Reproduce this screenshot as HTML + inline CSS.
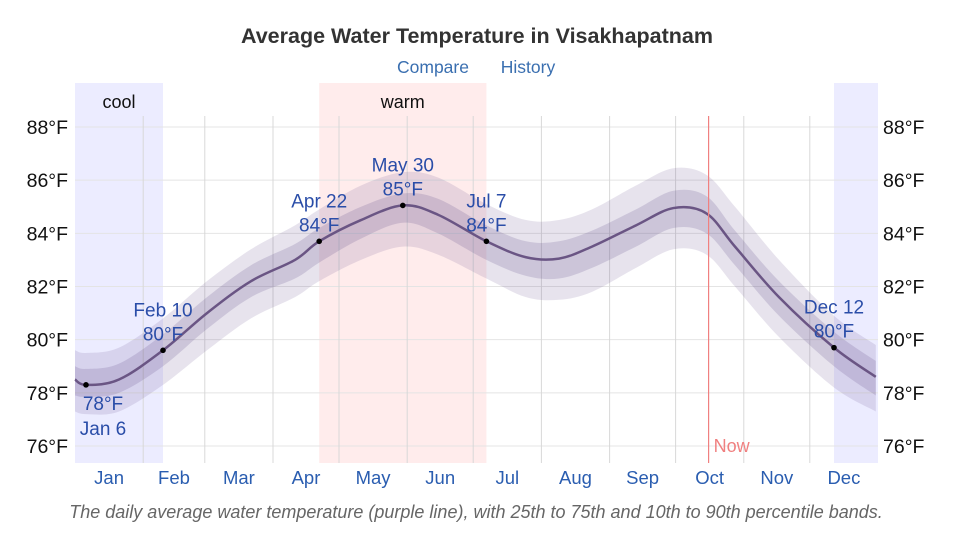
<!DOCTYPE html>
<html><head><meta charset="utf-8"><style>
body{margin:0;background:#fff;font-family:"Liberation Sans",sans-serif;}
svg{display:block}
</style></head><body>
<svg id="chart" width="956" height="546">
<text x="477" y="43" text-anchor="middle" font-size="21.5" font-weight="bold" fill="#333">Average Water Temperature in Visakhapatnam</text>
<text x="433" y="73" text-anchor="middle" font-size="17.5" fill="#3a6fb0">Compare</text>
<text x="528" y="73" text-anchor="middle" font-size="17.5" fill="#3a6fb0">History</text>
<g id="bg"></g><g id="grid"></g><g id="bands"></g><g id="marks"></g><g id="labels"></g>
<text x="476" y="518" text-anchor="middle" font-size="18" font-style="italic" fill="#666">The daily average water temperature (purple line), with 25th to 75th and 10th to 90th percentile bands.</text>
</svg>
<script>
const days=[0,5,20,40,60,80,100,111,130,149,165,187,205,220,235,255,272,287,300,320,345,364];
const avg =[78.5,78.3,78.5,79.6,81.0,82.2,83.0,83.7,84.5,85.05,84.7,83.7,83.1,83.05,83.5,84.3,84.95,84.75,83.5,81.6,79.7,78.6];
const p90 =[79.6,79.5,79.7,80.8,82.2,83.4,84.3,84.9,85.8,86.3,86.1,85.1,84.5,84.5,84.9,85.8,86.45,86.2,85.0,83.0,80.9,79.8];
const p75 =[79.0,78.9,79.1,80.2,81.6,82.8,83.6,84.2,85.0,85.5,85.3,84.3,83.7,83.7,84.1,84.9,85.6,85.4,84.1,82.2,80.3,79.2];
const p25 =[77.9,77.85,78.0,79.0,80.4,81.6,82.3,82.9,83.8,84.4,84.0,83.0,82.4,82.3,82.7,83.5,84.2,84.0,82.8,80.9,79.0,77.9];
const p10 =[77.3,77.2,77.3,78.3,79.6,80.8,81.6,82.2,83.0,83.5,83.2,82.3,81.6,81.5,81.8,82.7,83.4,83.2,82.0,80.1,78.2,77.3];
const yTicks=[76,78,80,82,84,86,88];
const months=["Jan","Feb","Mar","Apr","May","Jun","Jul","Aug","Sep","Oct","Nov","Dec"];
const monthStart=[0,31,59,90,120,151,181,212,243,273,304,334,365];
const annDays=[5,40,111,149,187,345];
const annVals=["78°F","80°F","84°F","85°F","84°F","80°F"];
const annNames=["Jan 6","Feb 10","Apr 22","May 30","Jul 7","Dec 12"];
const seasonCool=[[0,40],[345,365]], seasonWarm=[111,187];
const nowDay=288;

const X0=75,X1=878;
const x=d=>X0+d*(X1-X0)/365;
const y=v=>446-(v-76)*(446-127)/12;
const NS="http://www.w3.org/2000/svg";
function mk(tag,attrs,parent,txt){const e=document.createElementNS(NS,tag);for(const k in attrs)e.setAttribute(k,attrs[k]);if(txt!=null)e.textContent=txt;document.getElementById(parent).appendChild(e);return e;}
function segs(P){let s="";
  for(let i=0;i<P.length-1;i++){
    const p0=P[Math.max(i-1,0)],p1=P[i],p2=P[i+1],p3=P[Math.min(i+2,P.length-1)];
    s+=` C${p1[0]+(p2[0]-p0[0])/6},${p1[1]+(p2[1]-p0[1])/6} ${p2[0]-(p3[0]-p1[0])/6},${p2[1]-(p3[1]-p1[1])/6} ${p2[0]},${p2[1]}`;
  }return s;}
function curve(vals){const P=days.map((d,i)=>[x(d),y(vals[i])]);return "M"+P[0][0]+","+P[0][1]+segs(P);}
function rev(vals){const P=days.map((d,i)=>[x(d),y(vals[i])]).reverse();return "L"+P[0][0]+","+P[0][1]+segs(P)+"Z";}
seasonCool.forEach(r=>{const e=mk('rect',{x:x(r[0]),y:83,width:x(r[1])-x(r[0]),height:380,fill:'#ececff'},'bg');

});
let w=mk('rect',{x:x(seasonWarm[0]),y:83,width:x(seasonWarm[1])-x(seasonWarm[0]),height:380,fill:'#ffecec'},'bg');


let t=mk('text',{x:(x(seasonCool[0][0])+x(seasonCool[0][1]))/2,y:108,'text-anchor':'middle','font-size':18,fill:'#111'},'bg','cool');


t=mk('text',{x:(x(seasonWarm[0])+x(seasonWarm[1]))/2,y:108,'text-anchor':'middle','font-size':18,fill:'#111'},'bg','warm');


yTicks.forEach(v=>{const l=mk('line',{x1:X0,x2:X1,y1:y(v),y2:y(v),stroke:'#e4e4e4'},'grid');


let a=mk('text',{x:68,y:y(v)+7,'text-anchor':'end','font-size':19.5,fill:'#111'},'grid',v+'°F');


a=mk('text',{x:883,y:y(v)+7,'font-size':19.5,fill:'#111'},'grid',v+'°F');

});
for(let i=1;i<12;i++){const l=mk('line',{x1:x(monthStart[i]),x2:x(monthStart[i]),y1:116,y2:463,stroke:'#d8d8d8'},'grid');

}
months.forEach((m,i)=>{const a=mk('text',{x:(x(monthStart[i])+x(monthStart[i+1]))/2,y:484,'text-anchor':'middle','font-size':18.5,fill:'#2a5db0'},'grid',m);

});
let b=mk('path',{d:curve(p90)+rev(p10),fill:'rgba(110,90,150,0.17)'},'bands');


b=mk('path',{d:curve(p75)+rev(p25),fill:'rgba(100,80,140,0.2)'},'bands');


let ln=mk('path',{d:curve(avg),fill:'none',stroke:'#6a5584','stroke-width':2.5},'marks');


let nl=mk('line',{x1:x(nowDay),x2:x(nowDay),y1:116,y2:463,stroke:'#f08080','stroke-width':1.2},'marks');


let nt=mk('text',{x:x(nowDay)+5,y:452,'font-size':18,fill:'#f08080'},'marks','Now');


annDays.forEach((d,i)=>{const v=avg[days.indexOf(d)];const cx=x(d),cy=y(v);
const c=mk('circle',{cx:cx,cy:cy,r:2.8,fill:'#000'},'labels');


const below=i===0;
const tx=below?cx+17:cx;
let a=mk('text',{x:tx,y:below?cy+25:cy-34,'text-anchor':'middle','font-size':19,fill:'#2a4da8'},'labels',below?annVals[i]:annNames[i]);


a=mk('text',{x:tx,y:below?cy+50:cy-10,'text-anchor':'middle','font-size':19,fill:'#2a4da8'},'labels',below?annNames[i]:annVals[i]);

});
</script>
</body></html>
